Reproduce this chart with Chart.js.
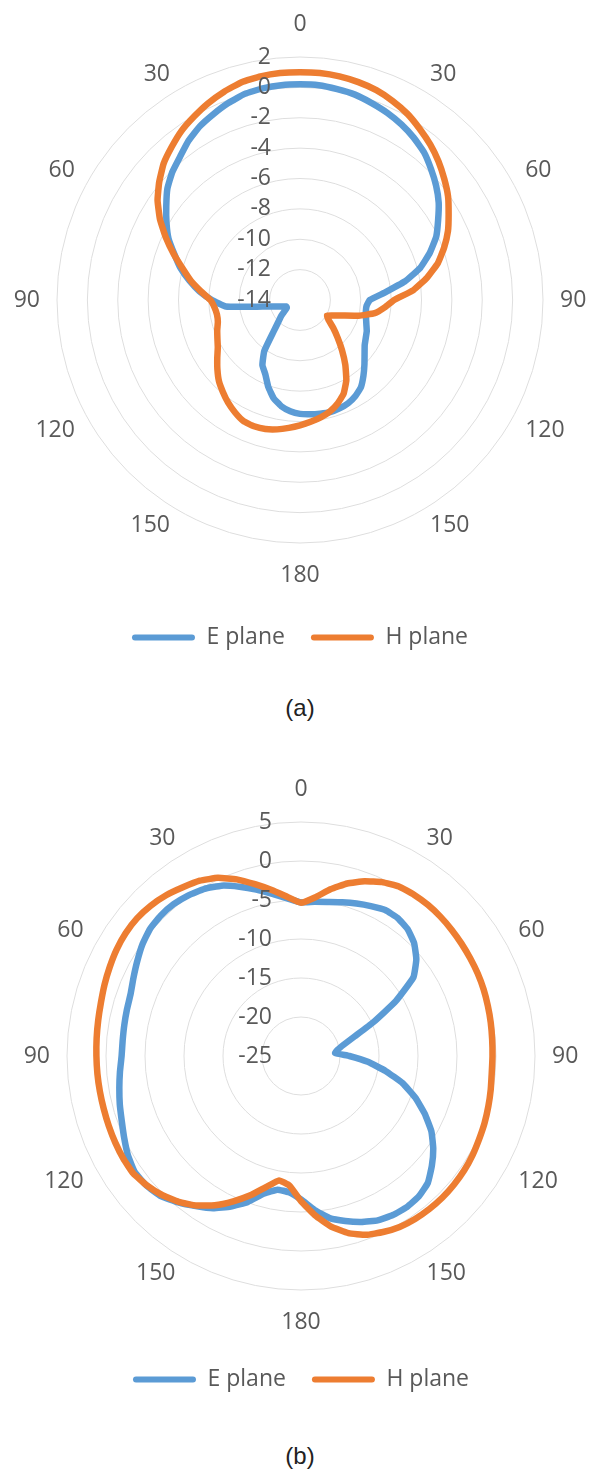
<!DOCTYPE html>
<html>
<head>
<meta charset="utf-8">
<script src="https://cdn.jsdelivr.net/npm/chart.js@4/dist/chart.umd.min.js"></script>
<style>
  html, body { margin: 0; padding: 0; background: #fff; }
  body { position: relative; width: 593px; height: 1472px; overflow: hidden; }
  canvas { position: absolute; left: 0; }
  #patternA { top: 0; }
  #patternB { top: 730px; }
  .caption {
    position: absolute; left: 0; width: 600px; text-align: center;
    font-family: "Liberation Sans", Arial, sans-serif; font-size: 24px; color: #222;
  }
</style>
</head>
<body>
<canvas id="patternA" width="593" height="659"></canvas>
<div class="caption" style="top:694px">(a)</div>
<canvas id="patternB" width="593" height="671"></canvas>
<div class="caption" style="top:1442px">(b)</div>
<script>
// Observation angles in degrees, clockwise from broadside (0 at the top)
const angles = [
  0, 5, 10, 15, 20, 25, 30, 35, 40, 45, 50, 55,
  60, 65, 70, 75, 80, 85, 90, 95, 100, 105, 110, 115,
  120, 125, 130, 135, 140, 145, 150, 155, 160, 165, 170, 175,
  180, 185, 190, 195, 200, 205, 210, 215, 220, 225, 230, 235,
  240, 245, 250, 255, 260, 265, 270, 275, 280, 285, 290, 295,
  300, 305, 310, 315, 320, 325, 330, 335, 340, 345, 350, 355
];

// Rim labels: angle where each one sits and the text shown there
const rimAngles = [0, 30, 60, 90, 120, 150, 180, 210, 240, 270, 300, 330];
const rimText = ['0', '30', '60', '90', '120', '150', '180', '150', '120', '90', '60', '30'];

// Gain rings (dB)
const gainTicksA = [-14, -12, -10, -8, -6, -4, -2, 0, 2];
const gainTicksB = [-25, -20, -15, -10, -5, 0, 5];

// (a) normalised gain, dB
const ePlaneA = [
  0.2, 0.2, 0.1, 0.0, -0.2, -0.4, -0.65, -0.95, -1.3, -1.8, -2.3, -2.85,
  -3.5, -4.1, -4.9, -5.8, -7.0, -8.4, -9.4, -9.6, -9.6, -9.5, -9.35, -9.15,
  -9.0, -8.8, -8.45, -8.0, -7.5, -7.0, -6.7, -6.5, -6.4, -6.35, -6.4, -6.45,
  -6.5, -6.65, -6.9, -7.3, -7.9, -8.6, -9.05, -9.9, -11.3, -12.0, -12.4, -12.8,
  -13.0, -13.0, -12.75, -12.35, -11.5, -9.1, -8.2, -7.35, -6.6, -5.85, -5.2, -4.45,
  -3.85, -3.25, -2.6, -2.1, -1.7, -1.2, -0.8, -0.5, -0.2, 0.05, 0.15, 0.2
];
const hPlaneA = [
  1.0, 1.0, 0.95, 0.85, 0.7, 0.45, 0.15, -0.25, -0.65, -1.1, -1.6, -2.1,
  -2.7, -3.25, -3.9, -4.6, -5.5, -6.5, -7.8, -8.4, -9.0, -10.0, -11.0, -11.6,
  -11.95, -11.7, -11.15, -10.5, -9.7, -8.8, -7.9, -7.2, -6.75, -6.4, -6.15, -5.95,
  -5.75, -5.55, -5.35, -5.2, -5.15, -5.2, -5.45, -5.75, -6.1, -6.45, -6.9, -7.35,
  -7.75, -8.0, -8.2, -8.4, -8.45, -8.35, -8.1, -7.45, -6.7, -6.0, -5.15, -4.25,
  -3.35, -2.55, -1.9, -1.3, -0.85, -0.4, -0.05, 0.3, 0.6, 0.85, 0.95, 1.0
];

// (b) normalised gain, dB
const ePlaneB = [
  -5.3, -5.15, -4.95, -4.6, -4.2, -3.8, -3.4, -3.4, -3.75, -4.5, -5.7, -7.4,
  -11.0, -14.8, -17.7, -19.3, -20.2, -20.6, -18.8, -16.4, -14.0, -11.5, -9.4, -7.5,
  -5.7, -4.3, -3.1, -2.0, -1.5, -1.35, -1.45, -1.75, -2.35, -3.1, -3.9, -5.2,
  -6.6, -7.45, -7.6, -6.75, -5.1, -3.7, -2.45, -1.5, -0.5, 0.4, 0.85, 1.0,
  0.6, 0.0, -0.55, -0.95, -1.35, -1.7, -2.0, -2.05, -2.0, -1.9, -1.75, -1.3,
  -0.75, -0.15, 0.3, 0.45, 0.4, 0.15, -0.25, -0.9, -1.9, -2.9, -3.9, -4.7
];
const hPlaneB = [
  -5.35, -4.6, -3.3, -2.1, -1.15, -0.4, 0.1, 0.25, 0.3, 0.27, 0.2, 0.12,
  0.05, 0.0, -0.08, -0.2, -0.3, -0.4, -0.45, -0.45, -0.3, -0.13, 0.05, 0.2,
  0.4, 0.55, 0.62, 0.65, 0.6, 0.5, 0.3, -0.1, -0.6, -1.5, -2.8, -4.5,
  -6.4, -8.3, -8.8, -7.6, -6.0, -4.45, -2.9, -1.6, -0.6, 0.2, 0.8, 1.25,
  1.3, 1.27, 1.22, 1.18, 1.18, 1.2, 1.23, 1.3, 1.4, 1.55, 1.8, 2.05,
  2.3, 2.45, 2.45, 2.25, 1.9, 1.4, 0.95, 0.2, -0.9, -2.2, -3.4, -4.5
];

const TEXT_GREY = '#595959';
const E_BLUE = '#5B9BD5';
const H_ORANGE = '#ED7D31';
const FONT = "'Open Sans', sans-serif";

Chart.defaults.font.family = FONT;

// Writes the gain values up the vertical axis and the angle labels round the rim
const polarText = {
  id: 'polarText',
  afterDatasetsDraw(chart, args, opts) {
    const r = chart.scales.r;
    const ctx = chart.ctx;
    ctx.save();
    ctx.font = opts.size + 'px ' + FONT;
    ctx.fillStyle = TEXT_GREY;

    ctx.textAlign = 'right';
    ctx.textBaseline = 'middle';
    r.ticks.forEach(t => {
      const d = r.getDistanceFromCenterForValue(t.value);
      ctx.fillText(String(t.value), r.xCenter - opts.tickGap, r.yCenter - d);
    });

    ctx.textAlign = 'center';
    const labels = chart.data.labels;
    rimAngles.forEach((ang, k) => {
      const idx = labels.indexOf(String(ang));
      const pos = r.getPointPosition(idx, r.drawingArea + opts.rimGap);
      const text = rimText[k];
      const w = ctx.measureText(text).width;
      const s = Math.sin(ang * Math.PI / 180);
      const c = Math.cos(ang * Math.PI / 180);
      let x = pos.x, y = pos.y;
      if (Math.abs(s) > 0.01) x += Math.sign(s) * w / 2;
      else y -= Math.sign(c) * (opts.size * 0.4 + opts.poleGap);
      ctx.fillText(text, x, y);
    });
    ctx.restore();
  }
};

function legendItems(chart) {
  return chart.data.datasets.map((ds, i) => ({
    text: ds.label,
    fillStyle: ds.borderColor,
    strokeStyle: ds.borderColor,
    lineWidth: 0,
    borderRadius: 3,
    fontColor: TEXT_GREY,
    hidden: false,
    datasetIndex: i
  }));
}

function drawPattern(id, eVals, hVals, ticks, padding) {
  return new Chart(document.getElementById(id), {
    type: 'radar',
    data: {
      labels: angles.map(String),
      datasets: [
        { label: 'E plane', data: eVals, borderColor: E_BLUE, backgroundColor: E_BLUE, order: 2 },
        { label: 'H plane', data: hVals, borderColor: H_ORANGE, backgroundColor: H_ORANGE, order: 1 }
      ]
    },
    options: {
      responsive: false,
      animation: false,
      devicePixelRatio: 1,
      layout: { padding },
      elements: {
        line: { borderWidth: 6.5, tension: 0.12, fill: false, borderJoinStyle: 'round', borderCapStyle: 'round' },
        point: { radius: 0, hoverRadius: 0, hitRadius: 0 }
      },
      scales: {
        r: {
          min: ticks[0],
          max: ticks[ticks.length - 1],
          ticks: { display: false, stepSize: ticks[1] - ticks[0] },
          grid: { circular: true, color: '#dedede', lineWidth: 1 },
          angleLines: { display: false },
          pointLabels: { display: false }
        }
      },
      plugins: {
        tooltip: { enabled: false },
        legend: {
          position: 'bottom',
          labels: {
            boxWidth: 63,
            boxHeight: 6,
            padding: 26,
            color: TEXT_GREY,
            font: { family: FONT, size: 23 },
            generateLabels: legendItems
          }
        },
        polarText: { size: 23, tickGap: 29, rimGap: 17, poleGap: 6 }
      }
    },
    plugins: [polarText]
  });
}

drawPattern('patternA', ePlaneA, hPlaneA, gainTicksA, { left: 57, right: 50, top: 0, bottom: 0 });
drawPattern('patternB', ePlaneB, hPlaneB, gainTicksB, { left: 67, right: 58, top: 40, bottom: 0 });
</script>
</body>
</html>
